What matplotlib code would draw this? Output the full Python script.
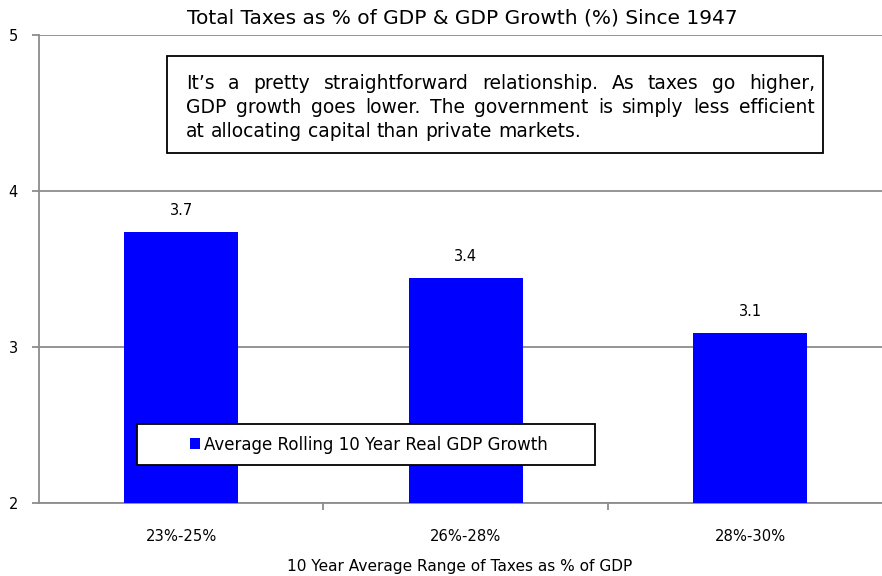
import numpy as np
import matplotlib
matplotlib.use('Agg')
import matplotlib.pyplot as plt
from matplotlib.patches import Rectangle

# data
categories = ['23%-25%', '26%-28%', '28%-30%']
gdp_growth = [3.74, 3.44, 3.09]
bar_labels = ['3.7', '3.4', '3.1']
series_name = 'Average Rolling 10 Year Real GDP Growth'
title = 'Total Taxes as % of GDP & GDP Growth (%) Since 1947'
xlabel = '10 Year Average Range of Taxes as % of GDP'
note_lines = ['It\u2019s a pretty straightforward relationship. As taxes go higher,',
              'GDP growth goes lower. The government is simply less efficient',
              'at allocating capital than private markets.']

W, H = 882, 576
fig = plt.figure(figsize=(W/100, H/100), dpi=100)
ax = fig.add_axes([39/W, 1-503/H, (W-39)/W, 468/H])

grid_col = '#8c8c8c'
x = np.arange(len(categories))
bars = ax.bar(x, gdp_growth, width=0.40, color='#0000ff', zorder=3, label=series_name)
for xi, v, lab in zip(x, gdp_growth, bar_labels):
    ax.annotate(lab, (xi, v), xytext=(0, 10), textcoords='offset points',
                ha='center', va='bottom', fontsize=10.5)

ax.set_ylim(2, 5)
ax.set_xlim(-0.5, 2.464)
ax.set_yticks([2, 3, 4, 5])
ax.yaxis.grid(True, color=grid_col, linewidth=1.3, zorder=0)
ax.set_xticks(x)
ax.set_xticklabels(categories, fontsize=10.6)
ax.set_xticks([0.5, 1.5], minor=True)
ax.tick_params(axis='x', which='major', length=0, pad=19)
ax.tick_params(axis='x', which='minor', length=5, color=grid_col, width=1.3)
ax.tick_params(axis='y', length=5, color=grid_col, width=1.3, pad=17, labelsize=10.5)
for lab in ax.get_yticklabels():
    lab.set_horizontalalignment('left')
for s in ['top', 'right']:
    ax.spines[s].set_visible(False)
for s in ['left', 'bottom']:
    ax.spines[s].set_color(grid_col)
    ax.spines[s].set_linewidth(1.3)

fig.text(462/W, 1-18/H, title, ha='center', va='center', fontsize=14.5)
fig.text(460/W, 1-566/H, xlabel, ha='center', va='center', fontsize=11.1)

# legend with a frame drawn separately
fig.add_artist(Rectangle((137/W, 1-465/H), 458/W, 41/H, transform=fig.transFigure,
                         facecolor='white', edgecolor='black', linewidth=1.3, zorder=5))
leg = fig.legend(handles=[bars], labels=[series_name], loc='center',
                 bbox_to_anchor=(369/W, 1-444.5/H), frameon=False, fontsize=12,
                 handlelength=0.6, handleheight=0.6, handletextpad=0.2, borderaxespad=0)
leg.set_zorder(6)

# note box with justified text
fig.add_artist(Rectangle((167/W, 1-153/H), 656/W, 97/H, transform=fig.transFigure,
                         facecolor='white', edgecolor='black', linewidth=1.3, zorder=5))
renderer = fig.canvas.get_renderer()
x0, x1 = 186, 815
line_y = [89, 113, 137]
fs = 13.5
for i, line in enumerate(note_lines):
    words = line.split(' ')
    arts = [fig.text(0, 1-line_y[i]/H, w, fontsize=fs, va='baseline', ha='left', zorder=6)
            for w in words]
    widths = [a.get_window_extent(renderer).width for a in arts]
    if i < len(note_lines)-1:
        gap = (x1-x0-sum(widths))/(len(words)-1)
    else:
        sp = fig.text(0, 0, 'a a', fontsize=fs)
        aa = fig.text(0, 0, 'aa', fontsize=fs)
        gap = sp.get_window_extent(renderer).width - aa.get_window_extent(renderer).width
        sp.remove(); aa.remove()
    pos = x0
    for a, wd in zip(arts, widths):
        a.set_x(pos/W)
        pos += wd + gap

fig.savefig('out.png', dpi=100)
